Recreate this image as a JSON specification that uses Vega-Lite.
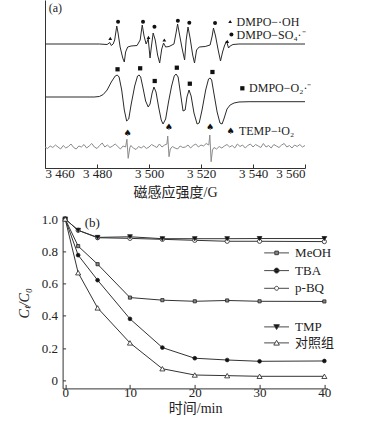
{
  "$schema": "https://vega.github.io/schema/vega-lite/v6.json",
  "background": "white",
  "padding": {"left": 17, "top": 0, "right": 0, "bottom": 0},
  "config": {
    "font": "Liberation Serif",
    "view": {"stroke": null},
    "axis": {"grid": false, "domainColor": "#333", "tickColor": "#333", "labelColor": "#222", "titleColor": "#222", "labelFontSize": 13, "titleFontSize": 14, "titleFontWeight": "normal", "labelFont": "Liberation Serif", "titleFont": "Liberation Serif, Noto Sans CJK SC", "labelOverlap": false}
  },
  "datasets": {
    "tr": [
      {"tr": "1", "G": 3460, "s": 124}, {"tr": "1", "G": 3480.9, "s": 124}, {"tr": "1", "G": 3483.9, "s": 123.5}, {"tr": "1", "G": 3484.9, "s": 125.5}, {"tr": "1", "G": 3485.5, "s": 122.5}, {"tr": "1", "G": 3486.2, "s": 124}, {"tr": "1", "G": 3486.8, "s": 128}, {"tr": "1", "G": 3487.6, "s": 142}, {"tr": "1", "G": 3488.1, "s": 135}, {"tr": "1", "G": 3488.9, "s": 121}, {"tr": "1", "G": 3489.9, "s": 110}, {"tr": "1", "G": 3490.5, "s": 106}, {"tr": "1", "G": 3491.0, "s": 116}, {"tr": "1", "G": 3491.8, "s": 121}, {"tr": "1", "G": 3493.1, "s": 122}, {"tr": "1", "G": 3495.4, "s": 122.5}, {"tr": "1", "G": 3496.6, "s": 128}, {"tr": "1", "G": 3497.4, "s": 143}, {"tr": "1", "G": 3498.1, "s": 132}, {"tr": "1", "G": 3498.9, "s": 124}, {"tr": "1", "G": 3499.7, "s": 129}, {"tr": "1", "G": 3500.4, "s": 110}, {"tr": "1", "G": 3501.0, "s": 123}, {"tr": "1", "G": 3501.6, "s": 135}, {"tr": "1", "G": 3502.4, "s": 128}, {"tr": "1", "G": 3503.3, "s": 113}, {"tr": "1", "G": 3504.1, "s": 105}, {"tr": "1", "G": 3504.9, "s": 119}, {"tr": "1", "G": 3505.6, "s": 125}, {"tr": "1", "G": 3506.4, "s": 121}, {"tr": "1", "G": 3507.7, "s": 121.5}, {"tr": "1", "G": 3509.6, "s": 124}, {"tr": "1", "G": 3510.4, "s": 135}, {"tr": "1", "G": 3511.0, "s": 144}, {"tr": "1", "G": 3511.7, "s": 134}, {"tr": "1", "G": 3512.7, "s": 120}, {"tr": "1", "G": 3513.7, "s": 108}, {"tr": "1", "G": 3514.3, "s": 128}, {"tr": "1", "G": 3515.0, "s": 141}, {"tr": "1", "G": 3515.8, "s": 130}, {"tr": "1", "G": 3516.8, "s": 113}, {"tr": "1", "G": 3517.5, "s": 105}, {"tr": "1", "G": 3518.3, "s": 118}, {"tr": "1", "G": 3519.3, "s": 121}, {"tr": "1", "G": 3521.6, "s": 121.5}, {"tr": "1", "G": 3523.5, "s": 123}, {"tr": "1", "G": 3524.3, "s": 132}, {"tr": "1", "G": 3524.8, "s": 140}, {"tr": "1", "G": 3525.6, "s": 132}, {"tr": "1", "G": 3526.6, "s": 118}, {"tr": "1", "G": 3527.5, "s": 107}, {"tr": "1", "G": 3528.3, "s": 116}, {"tr": "1", "G": 3529.0, "s": 122}, {"tr": "1", "G": 3529.8, "s": 127}, {"tr": "1", "G": 3530.6, "s": 120}, {"tr": "1", "G": 3531.2, "s": 122}, {"tr": "1", "G": 3532.3, "s": 123.5}, {"tr": "1", "G": 3534.6, "s": 124}, {"tr": "1", "G": 3560, "s": 124},
      {"tr": "2", "G": 3460, "s": 71}, {"tr": "2", "G": 3478.9, "s": 71}, {"tr": "2", "G": 3480.9, "s": 71.5}, {"tr": "2", "G": 3482.4, "s": 73.5}, {"tr": "2", "G": 3483.9, "s": 78}, {"tr": "2", "G": 3485.5, "s": 86}, {"tr": "2", "G": 3487.0, "s": 92}, {"tr": "2", "G": 3487.8, "s": 93}, {"tr": "2", "G": 3488.5, "s": 91}, {"tr": "2", "G": 3489.5, "s": 78}, {"tr": "2", "G": 3490.5, "s": 58}, {"tr": "2", "G": 3491.4, "s": 47}, {"tr": "2", "G": 3492.2, "s": 49}, {"tr": "2", "G": 3493.1, "s": 63}, {"tr": "2", "G": 3494.5, "s": 82}, {"tr": "2", "G": 3495.6, "s": 92}, {"tr": "2", "G": 3496.2, "s": 93}, {"tr": "2", "G": 3496.8, "s": 91}, {"tr": "2", "G": 3497.7, "s": 80}, {"tr": "2", "G": 3498.7, "s": 67}, {"tr": "2", "G": 3499.7, "s": 61}, {"tr": "2", "G": 3500.4, "s": 64}, {"tr": "2", "G": 3501.2, "s": 75}, {"tr": "2", "G": 3501.9, "s": 81}, {"tr": "2", "G": 3502.7, "s": 76}, {"tr": "2", "G": 3503.7, "s": 61}, {"tr": "2", "G": 3504.7, "s": 48}, {"tr": "2", "G": 3505.4, "s": 44}, {"tr": "2", "G": 3506.4, "s": 49}, {"tr": "2", "G": 3507.5, "s": 66}, {"tr": "2", "G": 3508.7, "s": 82}, {"tr": "2", "G": 3509.7, "s": 92}, {"tr": "2", "G": 3510.4, "s": 94}, {"tr": "2", "G": 3511.2, "s": 91}, {"tr": "2", "G": 3512.2, "s": 73}, {"tr": "2", "G": 3513.1, "s": 57}, {"tr": "2", "G": 3513.9, "s": 58}, {"tr": "2", "G": 3514.6, "s": 71}, {"tr": "2", "G": 3515.4, "s": 78}, {"tr": "2", "G": 3516.2, "s": 72}, {"tr": "2", "G": 3517.3, "s": 55}, {"tr": "2", "G": 3518.5, "s": 44}, {"tr": "2", "G": 3519.3, "s": 45}, {"tr": "2", "G": 3520.4, "s": 58}, {"tr": "2", "G": 3521.8, "s": 78}, {"tr": "2", "G": 3522.9, "s": 89}, {"tr": "2", "G": 3523.5, "s": 90}, {"tr": "2", "G": 3524.1, "s": 88}, {"tr": "2", "G": 3525.0, "s": 74}, {"tr": "2", "G": 3526.2, "s": 56}, {"tr": "2", "G": 3527.3, "s": 45}, {"tr": "2", "G": 3528.1, "s": 44}, {"tr": "2", "G": 3528.8, "s": 49}, {"tr": "2", "G": 3530.0, "s": 59}, {"tr": "2", "G": 3531.2, "s": 63}, {"tr": "2", "G": 3532.7, "s": 65}, {"tr": "2", "G": 3534.6, "s": 66}, {"tr": "2", "G": 3538.5, "s": 66.3}, {"tr": "2", "G": 3560, "s": 66.3},
      {"tr": "3", "G": 3460, "s": 21}, {"tr": "3", "G": 3461, "s": 19.5}, {"tr": "3", "G": 3462, "s": 22}, {"tr": "3", "G": 3463, "s": 20.5}, {"tr": "3", "G": 3464, "s": 23}, {"tr": "3", "G": 3465, "s": 21}, {"tr": "3", "G": 3466, "s": 19}, {"tr": "3", "G": 3467, "s": 22.5}, {"tr": "3", "G": 3468, "s": 20}, {"tr": "3", "G": 3469, "s": 21.5}, {"tr": "3", "G": 3470, "s": 24}, {"tr": "3", "G": 3471, "s": 20.5}, {"tr": "3", "G": 3472, "s": 19}, {"tr": "3", "G": 3473, "s": 22}, {"tr": "3", "G": 3474, "s": 21}, {"tr": "3", "G": 3475, "s": 23.5}, {"tr": "3", "G": 3476, "s": 20}, {"tr": "3", "G": 3477, "s": 22}, {"tr": "3", "G": 3478, "s": 24.5}, {"tr": "3", "G": 3479, "s": 21}, {"tr": "3", "G": 3480, "s": 19.5}, {"tr": "3", "G": 3481, "s": 22.5}, {"tr": "3", "G": 3482, "s": 25}, {"tr": "3", "G": 3483, "s": 21}, {"tr": "3", "G": 3484, "s": 23}, {"tr": "3", "G": 3485, "s": 20.5}, {"tr": "3", "G": 3486, "s": 22}, {"tr": "3", "G": 3487, "s": 24}, {"tr": "3", "G": 3488, "s": 21.5}, {"tr": "3", "G": 3489, "s": 19}, {"tr": "3", "G": 3490, "s": 22}, {"tr": "3", "G": 3491, "s": 21}, {"tr": "3", "G": 3491.5, "s": 28.7}, {"tr": "3", "G": 3492, "s": 9.7}, {"tr": "3", "G": 3492.6, "s": 20}, {"tr": "3", "G": 3493, "s": 22.5}, {"tr": "3", "G": 3494, "s": 20}, {"tr": "3", "G": 3495, "s": 18.5}, {"tr": "3", "G": 3496, "s": 21.5}, {"tr": "3", "G": 3497, "s": 20}, {"tr": "3", "G": 3498, "s": 22}, {"tr": "3", "G": 3499, "s": 19.5}, {"tr": "3", "G": 3500, "s": 21}, {"tr": "3", "G": 3501, "s": 23.5}, {"tr": "3", "G": 3502, "s": 22}, {"tr": "3", "G": 3503, "s": 20.5}, {"tr": "3", "G": 3504, "s": 24}, {"tr": "3", "G": 3505, "s": 21}, {"tr": "3", "G": 3506, "s": 23}, {"tr": "3", "G": 3506.9, "s": 24}, {"tr": "3", "G": 3507.2, "s": 32}, {"tr": "3", "G": 3507.7, "s": 11.3}, {"tr": "3", "G": 3508.2, "s": 19}, {"tr": "3", "G": 3509, "s": 21.5}, {"tr": "3", "G": 3510, "s": 20}, {"tr": "3", "G": 3511, "s": 19}, {"tr": "3", "G": 3512, "s": 22}, {"tr": "3", "G": 3513, "s": 20.5}, {"tr": "3", "G": 3514, "s": 21}, {"tr": "3", "G": 3515, "s": 23}, {"tr": "3", "G": 3516, "s": 20}, {"tr": "3", "G": 3517, "s": 22.5}, {"tr": "3", "G": 3518, "s": 24}, {"tr": "3", "G": 3519, "s": 21}, {"tr": "3", "G": 3520, "s": 23}, {"tr": "3", "G": 3521, "s": 22}, {"tr": "3", "G": 3522, "s": 24.5}, {"tr": "3", "G": 3523, "s": 23}, {"tr": "3", "G": 3523.4, "s": 33}, {"tr": "3", "G": 3523.9, "s": 6.3}, {"tr": "3", "G": 3524.4, "s": 18}, {"tr": "3", "G": 3525, "s": 20.5}, {"tr": "3", "G": 3526, "s": 19}, {"tr": "3", "G": 3527, "s": 21.5}, {"tr": "3", "G": 3528, "s": 20}, {"tr": "3", "G": 3529, "s": 22}, {"tr": "3", "G": 3530, "s": 23.5}, {"tr": "3", "G": 3531, "s": 21}, {"tr": "3", "G": 3532, "s": 22.5}, {"tr": "3", "G": 3533, "s": 20}, {"tr": "3", "G": 3534, "s": 24}, {"tr": "3", "G": 3535, "s": 21.5}, {"tr": "3", "G": 3536, "s": 23}, {"tr": "3", "G": 3537, "s": 20}, {"tr": "3", "G": 3538, "s": 22.5}, {"tr": "3", "G": 3539, "s": 24}, {"tr": "3", "G": 3540, "s": 21}, {"tr": "3", "G": 3541, "s": 23.5}, {"tr": "3", "G": 3542, "s": 22}, {"tr": "3", "G": 3543, "s": 20.5}, {"tr": "3", "G": 3544, "s": 24.5}, {"tr": "3", "G": 3545, "s": 21}, {"tr": "3", "G": 3546, "s": 22.5}, {"tr": "3", "G": 3547, "s": 20}, {"tr": "3", "G": 3548, "s": 23.5}, {"tr": "3", "G": 3549, "s": 22}, {"tr": "3", "G": 3550, "s": 20.5}, {"tr": "3", "G": 3551, "s": 23}, {"tr": "3", "G": 3552, "s": 24.5}, {"tr": "3", "G": 3553, "s": 21}, {"tr": "3", "G": 3554, "s": 22.5}, {"tr": "3", "G": 3555, "s": 20}, {"tr": "3", "G": 3556, "s": 23}, {"tr": "3", "G": 3557, "s": 21.5}, {"tr": "3", "G": 3558, "s": 23.5}, {"tr": "3", "G": 3559, "s": 21}, {"tr": "3", "G": 3560, "s": 22.5}
    ],
    "mk": [
      {"kind": "SO4", "G": 3488.1, "s": 146.3}, {"kind": "SO4", "G": 3497.7, "s": 146.3}, {"kind": "SO4", "G": 3502.1, "s": 141.3}, {"kind": "SO4", "G": 3511.1, "s": 147.3}, {"kind": "SO4", "G": 3515.5, "s": 145.3}, {"kind": "SO4", "G": 3525.4, "s": 145},
      {"kind": "OH", "G": 3485.1, "s": 129.7}, {"kind": "OH", "G": 3499.8, "s": 130.7}, {"kind": "OH", "G": 3505.9, "s": 128}, {"kind": "OH", "G": 3530.1, "s": 126.7},
      {"kind": "O2", "G": 3487.9, "s": 98.7}, {"kind": "O2", "G": 3496.6, "s": 99.7}, {"kind": "O2", "G": 3502.2, "s": 87}, {"kind": "O2", "G": 3510.7, "s": 100.3}, {"kind": "O2", "G": 3515.7, "s": 84.3}, {"kind": "O2", "G": 3524.4, "s": 96},
      {"kind": "TEMP", "G": 3491.7, "s": 34.7}, {"kind": "TEMP", "G": 3507.6, "s": 40.7}, {"kind": "TEMP", "G": 3523.5, "s": 40.7},
      {"kind": "OH", "G": 3531.2, "s": 146.5}, {"kind": "SO4", "G": 3531.7, "s": 133.5}, {"kind": "O2", "G": 3535.9, "s": 79.7}, {"kind": "TEMP", "G": 3531.4, "s": 37}
    ],
    "lab": [
      {"G": 3533.7, "s": 146.5, "label": "DMPO−·OH"},
      {"G": 3533.7, "s": 133.5, "label": "DMPO−SO₄·⁻"},
      {"G": 3538.5, "s": 79.7, "label": "DMPO−O₂·⁻"},
      {"G": 3534.6, "s": 37, "label": "TEMP−¹O₂"},
      {"G": 3461.4, "s": 159.7, "label": "(a)"}
    ],
    "b": [
      {"series": "MeOH", "t": 0, "c": 1.0}, {"series": "MeOH", "t": 2, "c": 0.832}, {"series": "MeOH", "t": 5, "c": 0.72}, {"series": "MeOH", "t": 10, "c": 0.513}, {"series": "MeOH", "t": 15, "c": 0.497}, {"series": "MeOH", "t": 20, "c": 0.49}, {"series": "MeOH", "t": 25, "c": 0.495}, {"series": "MeOH", "t": 30, "c": 0.49}, {"series": "MeOH", "t": 40, "c": 0.489},
      {"series": "TBA", "t": 0, "c": 1.0}, {"series": "TBA", "t": 2, "c": 0.776}, {"series": "TBA", "t": 5, "c": 0.621}, {"series": "TBA", "t": 10, "c": 0.381}, {"series": "TBA", "t": 15, "c": 0.203}, {"series": "TBA", "t": 20, "c": 0.137}, {"series": "TBA", "t": 25, "c": 0.126}, {"series": "TBA", "t": 30, "c": 0.118}, {"series": "TBA", "t": 40, "c": 0.12},
      {"series": "p-BQ", "t": 0, "c": 1.0}, {"series": "p-BQ", "t": 2, "c": 0.93}, {"series": "p-BQ", "t": 5, "c": 0.884}, {"series": "p-BQ", "t": 10, "c": 0.88}, {"series": "p-BQ", "t": 15, "c": 0.874}, {"series": "p-BQ", "t": 20, "c": 0.868}, {"series": "p-BQ", "t": 25, "c": 0.862}, {"series": "p-BQ", "t": 30, "c": 0.862}, {"series": "p-BQ", "t": 40, "c": 0.86},
      {"series": "TMP", "t": 0, "c": 1.0}, {"series": "TMP", "t": 2, "c": 0.93}, {"series": "TMP", "t": 5, "c": 0.886}, {"series": "TMP", "t": 10, "c": 0.89}, {"series": "TMP", "t": 15, "c": 0.878}, {"series": "TMP", "t": 20, "c": 0.878}, {"series": "TMP", "t": 25, "c": 0.878}, {"series": "TMP", "t": 30, "c": 0.879}, {"series": "TMP", "t": 40, "c": 0.879},
      {"series": "对照组", "t": 0, "c": 1.0}, {"series": "对照组", "t": 2, "c": 0.667}, {"series": "对照组", "t": 5, "c": 0.449}, {"series": "对照组", "t": 10, "c": 0.232}, {"series": "对照组", "t": 15, "c": 0.072}, {"series": "对照组", "t": 20, "c": 0.033}, {"series": "对照组", "t": 25, "c": 0.029}, {"series": "对照组", "t": 30, "c": 0.025}, {"series": "对照组", "t": 40, "c": 0.025}
    ]
  },
  "vconcat": [
    {
      "width": 260,
      "height": 168,
      "layer": [
        {
          "data": {"name": "tr"},
          "mark": {"type": "line", "strokeWidth": 1},
          "encoding": {
            "x": {"field": "G", "type": "quantitative", "scale": {"domain": [3460, 3560], "nice": false, "zero": false},
                  "axis": {"values": [3460, 3480, 3500, 3520, 3540, 3560], "tickCount": 12, "labelExpr": "replace(format(datum.value, ','), ',', ' ')", "title": "磁感应强度/G", "tickSize": -4, "labelPadding": 3, "titlePadding": 5, "labelFontSize": 13}},
            "y": {"field": "s", "type": "quantitative", "scale": {"domain": [0, 168], "nice": false, "zero": false},
                  "axis": {"labels": false, "ticks": false, "title": null}},
            "color": {"field": "tr", "type": "nominal", "scale": {"domain": ["1", "2", "3"], "range": ["#2a2a2a", "#2a2a2a", "#8a8a8a"]}, "legend": null}
          }
        },
        {
          "data": {"name": "mk"},
          "transform": [{"filter": "datum.kind !== 'TEMP'"}],
          "mark": {"type": "point", "filled": true, "opacity": 1, "color": "#111"},
          "encoding": {
            "x": {"field": "G", "type": "quantitative"},
            "y": {"field": "s", "type": "quantitative"},
            "shape": {"field": "kind", "type": "nominal", "scale": {"domain": ["OH", "SO4", "O2"], "range": ["triangle-up", "circle", "square"]}, "legend": null},
            "size": {"field": "kind", "type": "nominal", "scale": {"domain": ["OH", "SO4", "O2"], "range": [14, 18, 16]}, "legend": null}
          }
        },
        {
          "data": {"name": "mk"},
          "transform": [{"filter": "datum.kind === 'TEMP'"}],
          "mark": {"type": "text", "text": "♠", "font": "DejaVu Sans", "fontSize": 9, "color": "#111", "baseline": "middle"},
          "encoding": {
            "x": {"field": "G", "type": "quantitative"},
            "y": {"field": "s", "type": "quantitative"}
          }
        },
        {
          "data": {"name": "lab"},
          "mark": {"type": "text", "align": "left", "baseline": "middle", "fontSize": 12, "font": "Liberation Serif", "color": "#222"},
          "encoding": {
            "x": {"field": "G", "type": "quantitative"},
            "y": {"field": "s", "type": "quantitative"},
            "text": {"field": "label"}
          }
        }
      ]
    },
    {
      "hconcat": [
        {
          "width": 1,
          "height": 1,
          "data": {"values": [{}]},
          "mark": {"type": "point", "opacity": 0}
        },
        {
          "width": 265,
          "height": 171,
          "data": {"name": "b"},
          "layer": [
            {
              "mark": {"type": "line", "strokeWidth": 1, "color": "#333"},
              "encoding": {
                "x": {"field": "t", "type": "quantitative", "scale": {"domain": [-0.4, 40.5], "nice": false, "zero": false},
                      "axis": {"values": [0, 10, 20, 30, 40], "tickCount": 10, "title": "时间/min", "tickSize": -4, "labelPadding": 2, "titlePadding": 2, "labelOverlap": false}},
                "y": {"field": "c", "type": "quantitative", "scale": {"domain": [-0.05, 1.01], "nice": false, "zero": false},
                      "axis": {"values": [0, 0.2, 0.4, 0.6, 0.8, 1.0], "tickCount": 12, "labelExpr": "datum.value == 0 ? '0' : format(datum.value, '.1f')", "title": "Cₜ/C₀", "titleFontStyle": "italic", "tickSize": -3, "labelPadding": 8, "titlePadding": 10, "labelOverlap": false, "labelBound": false}},
                "detail": {"field": "series"}
              }
            },
            {
              "mark": {"type": "point", "filled": true, "stroke": "#222", "strokeWidth": 0.8, "opacity": 1},
              "encoding": {
                "x": {"field": "t", "type": "quantitative"},
                "y": {"field": "c", "type": "quantitative"},
                "shape": {"field": "series", "type": "nominal", "scale": {"domain": ["MeOH", "TBA", "p-BQ", "TMP", "对照组"], "range": ["square", "circle", "circle", "triangle-down", "triangle-up"]}, "legend": null},
                "size": {"field": "series", "type": "nominal", "scale": {"domain": ["MeOH", "TBA", "p-BQ", "TMP", "对照组"], "range": [10, 26, 14, 26, 22]}, "legend": null},
                "fill": {"field": "series", "type": "nominal", "scale": {"domain": ["MeOH", "TBA", "p-BQ", "TMP", "对照组"], "range": ["#888", "#111", "white", "#111", "white"]}, "legend": null}
              }
            },
            {
              "transform": [{"filter": "datum.series === 'MeOH' || datum.series === 'TBA' || datum.series === 'p-BQ'"}],
              "mark": {"type": "point", "filled": false, "color": "#333", "strokeWidth": 0.9, "opacity": 0},
              "encoding": {
                "x": {"field": "t", "type": "quantitative"},
                "y": {"field": "c", "type": "quantitative"},
                "shape": {"field": "series", "type": "nominal",
                  "scale": {"domain": ["MeOH", "TBA", "p-BQ"], "range": [
                    "M-3.1,0H-0.45M0.45,0H3.1M-0.45,-0.45H0.45V0.45H-0.45Z",
                    "M-3.1,0H3.1M-0.62,0A0.62,0.62,0,1,0,0.62,0A0.62,0.62,0,1,0,-0.62,0Z",
                    "M-3.1,0H-0.5M0.5,0H3.1M-0.5,0A0.5,0.5,0,1,0,0.5,0A0.5,0.5,0,1,0,-0.5,0Z"]},
                  "legend": {"orient": "none", "legendX": 207.5, "legendY": 29, "title": null, "padding": 0, "symbolSize": 64, "labelFontSize": 13, "labelFont": "Liberation Serif", "labelColor": "#222", "labelOffset": 12, "rowPadding": 3.7, "symbolStrokeColor": "#333", "symbolStrokeWidth": 0.9, "symbolOpacity": 1}},
                "fill": {"field": "series", "type": "nominal",
                  "scale": {"domain": ["MeOH", "TBA", "p-BQ"], "range": ["#888", "#111", "white"]},
                  "legend": {"orient": "none", "legendX": 207.5, "legendY": 29, "title": null, "padding": 0, "symbolSize": 64, "labelFontSize": 13, "labelFont": "Liberation Serif", "labelColor": "#222", "labelOffset": 12, "rowPadding": 3.7, "symbolStrokeColor": "#333", "symbolStrokeWidth": 0.9, "symbolOpacity": 1}},
                "stroke": {"field": "series", "type": "nominal",
                  "scale": {"domain": ["MeOH", "TBA", "p-BQ"], "range": ["#333", "#333", "#333"]},
                  "legend": {"orient": "none", "legendX": 207.5, "legendY": 29, "title": null, "padding": 0, "symbolSize": 64, "labelFontSize": 13, "labelFont": "Liberation Serif", "labelColor": "#222", "labelOffset": 12, "rowPadding": 3.7, "symbolStrokeColor": "#333", "symbolStrokeWidth": 0.9, "symbolOpacity": 1}}
              }
            },
            {
              "transform": [{"filter": "datum.series === 'TMP' || datum.series === '对照组'"}],
              "mark": {"type": "point", "filled": false, "color": "#333", "strokeWidth": 0.9, "opacity": 0},
              "encoding": {
                "x": {"field": "t", "type": "quantitative"},
                "y": {"field": "c", "type": "quantitative"},
                "shape": {"field": "series", "type": "nominal",
                  "scale": {"domain": ["TMP", "对照组"], "range": [
                    "M-3.1,0H3.1M-0.7,-0.55L0.7,-0.55L0,0.65Z",
                    "M-3.1,0H-0.38M0.38,0H3.1M-0.7,0.55L0.7,0.55L0,-0.65Z"]},
                  "legend": {"orient": "none", "legendX": 207.5, "legendY": 103, "title": null, "padding": 0, "symbolSize": 64, "labelFontSize": 13, "labelFont": "Liberation Serif, Noto Sans CJK SC", "labelColor": "#222", "labelOffset": 12, "rowPadding": 2, "symbolStrokeColor": "#333", "symbolStrokeWidth": 0.9, "symbolOpacity": 1}},
                "fill": {"field": "series", "type": "nominal",
                  "scale": {"domain": ["TMP", "对照组"], "range": ["#111", "white"]},
                  "legend": {"orient": "none", "legendX": 207.5, "legendY": 103, "title": null, "padding": 0, "symbolSize": 64, "labelFontSize": 13, "labelFont": "Liberation Serif, Noto Sans CJK SC", "labelColor": "#222", "labelOffset": 12, "rowPadding": 2, "symbolStrokeColor": "#333", "symbolStrokeWidth": 0.9, "symbolOpacity": 1}},
                "stroke": {"field": "series", "type": "nominal",
                  "scale": {"domain": ["TMP", "对照组"], "range": ["#333", "#333"]},
                  "legend": {"orient": "none", "legendX": 207.5, "legendY": 103, "title": null, "padding": 0, "symbolSize": 64, "labelFontSize": 13, "labelFont": "Liberation Serif, Noto Sans CJK SC", "labelColor": "#222", "labelOffset": 12, "rowPadding": 2, "symbolStrokeColor": "#333", "symbolStrokeWidth": 0.9, "symbolOpacity": 1}}
              }
            },
            {
              "data": {"values": [{"note": "(b)"}]},
              "mark": {"type": "text", "align": "left", "baseline": "middle", "fontSize": 13, "font": "Liberation Serif", "color": "#222"},
              "encoding": {
                "x": {"datum": 3.0},
                "y": {"datum": 0.973},
                "text": {"field": "note"}
              }
            }
          ],
          "resolve": {"scale": {"shape": "independent", "fill": "independent", "stroke": "independent"}, "legend": {"shape": "independent", "fill": "independent", "stroke": "independent"}}
        }
      ],
      "bounds": "flush",
      "spacing": 16.6,
      "resolve": {"scale": {"shape": "independent", "fill": "independent", "size": "independent", "stroke": "independent"}}
    }
  ],
  "bounds": "flush",
  "spacing": 49.4,
  "resolve": {"scale": {"color": "independent", "shape": "independent", "size": "independent", "fill": "independent", "stroke": "independent"}}
}
